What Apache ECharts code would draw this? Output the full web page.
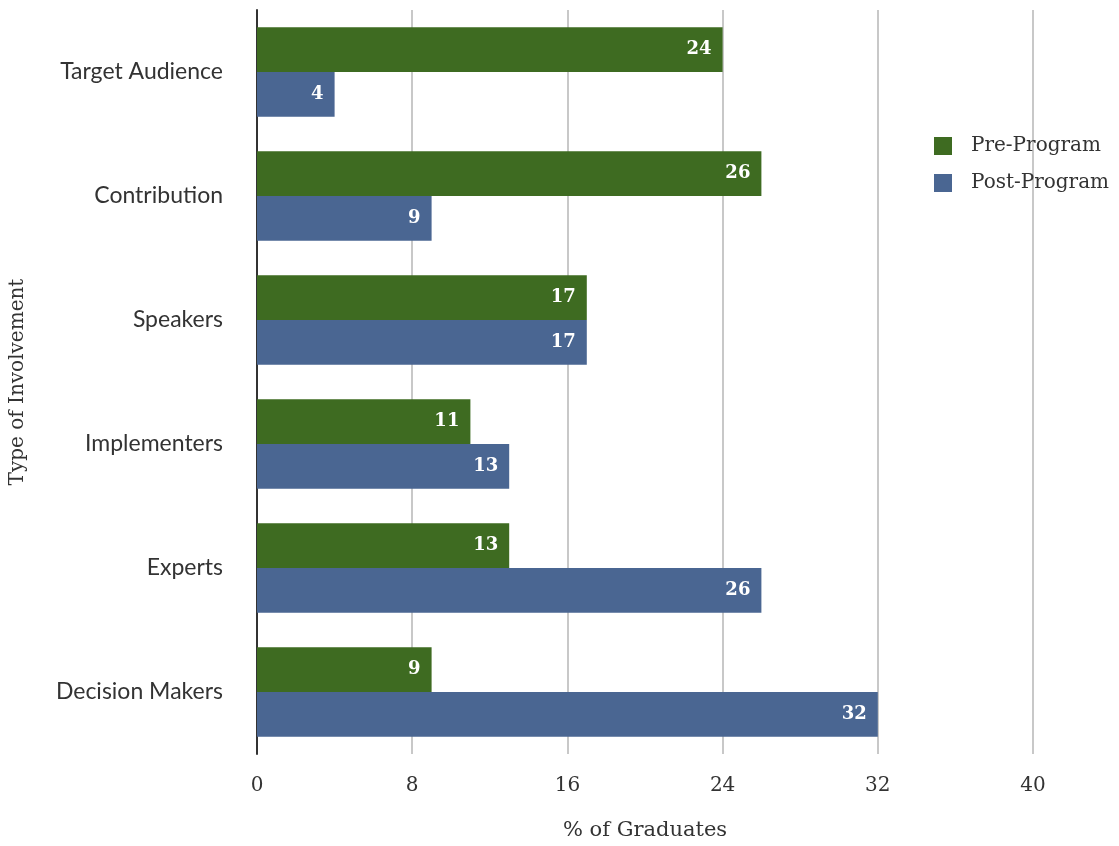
<!DOCTYPE html>
<html>
<head>
<meta charset="utf-8">
<script src="https://cdn.jsdelivr.net/npm/echarts@6/dist/echarts.min.js"></script>
<style>html,body{margin:0;padding:0;background:#fff}#c{width:1119px;height:846px}</style>
</head>
<body>
<div id="c"></div>
<script>
const categories = ["Target Audience", "Contribution", "Speakers", "Implementers", "Experts", "Decision Makers"];
const preProgram = [24, 26, 17, 11, 13, 9];
const postProgram = [4, 9, 17, 13, 26, 32];
const xTicks = [0, 8, 16, 24, 32, 40];

const serif = '"DejaVu Serif", "Liberation Serif", serif';
const chart = echarts.init(document.getElementById('c'));
const labelStyle = {
  show: true, position: 'insideRight', distance: 11,
  color: '#fff', fontWeight: 'bold', fontSize: 18, fontFamily: serif
};
chart.setOption({
  animation: false,
  grid: { left: 257, right: 86, top: 10, bottom: 91, containLabel: false },
  legend: {
    orient: 'vertical', left: 929, top: 131, icon: 'rect', itemWidth: 18, itemHeight: 18, itemGap: 17,
    textStyle: { fontFamily: serif, fontSize: 20, color: '#333', padding: [0, 0, 0, 14] },
    data: ['Pre-Program', 'Post-Program']
  },
  xAxis: {
    type: 'value', min: xTicks[0], max: xTicks[xTicks.length - 1], interval: 8,
    name: '% of Graduates', nameLocation: 'middle', nameGap: 66,
    nameTextStyle: { fontFamily: serif, fontSize: 21, color: '#333' },
    axisLine: { show: false }, axisTick: { show: false },
    axisLabel: { fontFamily: serif, fontSize: 20, color: '#333', margin: 22 },
    splitLine: { show: true, lineStyle: { color: '#c8c8c8', width: 2 } }
  },
  yAxis: {
    type: 'category', data: categories, inverse: true,
    name: 'Type of Involvement', nameLocation: 'middle', nameGap: 229, nameRotate: 90,
    nameTextStyle: { fontFamily: serif, fontSize: 20, color: '#333' },
    axisLine: { show: true, lineStyle: { color: '#333', width: 2 } },
    axisTick: { show: false },
    axisLabel: { fontFamily: 'Lato, "Open Sans", sans-serif', fontSize: 23, color: '#333', margin: 34 }
  },
  series: [
    { name: 'Pre-Program', type: 'bar', data: preProgram, barGap: '0%', barCategoryGap: '28%',
      itemStyle: { color: '#3e6b21' }, label: labelStyle },
    { name: 'Post-Program', type: 'bar', data: postProgram, barGap: '0%', barCategoryGap: '28%',
      itemStyle: { color: '#4a6692' }, label: labelStyle }
  ]
});
</script>
</body>
</html>
